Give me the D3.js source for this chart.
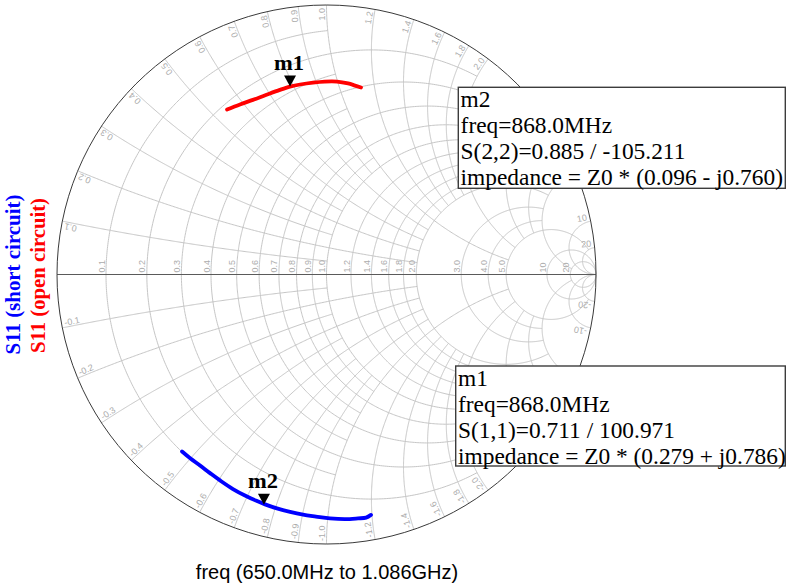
<!DOCTYPE html>
<html>
<head>
<meta charset="utf-8">
<script src="https://cdn.jsdelivr.net/npm/d3@7"></script>
<style>
  html, body { margin: 0; padding: 0; background: #fff; }
  svg { display: block; }
</style>
</head>
<body>
<svg id="chart" width="786" height="587"></svg>
<script>
// Normalized resistance / reactance values of the Smith grid
const gridValues = [0.1, 0.2, 0.3, 0.4, 0.5, 0.6, 0.7, 0.8, 0.9, 1.0, 1.2, 1.4, 1.6, 1.8, 2.0, 3.0, 4.0, 5.0, 10, 20];
// How far each grid line runs along the other coordinate
const gridReach = [1, 2, 1, 2, 1, 2, 1, 2, 1, 5, 2, 2, 2, 2, 5, 5, 5, 20, Infinity, Infinity];

// S11 (open circuit): reflection coefficient, real and imaginary parts
const openRe = [-0.369, -0.321, -0.273, -0.225, -0.173, -0.132, -0.098, -0.050, -0.006, 0.039, 0.080, 0.106, 0.128];
const openIm = [0.612, 0.631, 0.648, 0.666, 0.685, 0.698, 0.705, 0.712, 0.716, 0.716, 0.709, 0.701, 0.694];

// S11 (short circuit): reflection coefficient, real and imaginary parts
const shortRe = [-0.536, -0.507, -0.469, -0.432, -0.395, -0.347, -0.295, -0.262, -0.228, -0.184, -0.135, -0.087, -0.039, 0.013, 0.069, 0.117, 0.147, 0.165];
const shortIm = [-0.657, -0.681, -0.709, -0.737, -0.764, -0.796, -0.824, -0.839, -0.853, -0.868, -0.881, -0.891, -0.898, -0.905, -0.908, -0.905, -0.902, -0.892];

// Markers at 868 MHz
const markerNames = ["m1", "m2"];
const markerParams = ["S(1,1)", "S(2,2)"];
const markerFreqs = ["868.0MHz", "868.0MHz"];
const markerMag = [0.711, 0.885];
const markerAngle = [100.971, -105.211];
const markerZr = [0.279, 0.096];
const markerZx = [0.786, -0.760];

const freqLabel = "freq (650.0MHz to 1.086GHz)";
const titleShort = "S11 (short circuit)";
const titleOpen = "S11 (open circuit)";

const svg = d3.select("#chart");
const cx = 326.5, cy = 274.5, R = 269.5;
const sx = d3.scaleLinear().domain([-1, 1]).range([cx - R, cx + R]);
const sy = d3.scaleLinear().domain([-1, 1]).range([cy + R, cy - R]);
const line = d3.line().x(d => sx(d[0])).y(d => sy(d[1]));

// z = r + jx  ->  gamma = (z - 1) / (z + 1)
function gammaOf(r, x) {
  const a = r - 1, c = r + 1, den = c * c + x * x;
  return [(a * c + x * x) / den, (x * c - a * x) / den];
}

// Constant-resistance circle, kept within |x| <= X
function rCircle(r, X) {
  const c = r / (1 + r), rho = 1 / (1 + r);
  let p1 = 0;
  if (isFinite(X)) { const g = gammaOf(r, X); p1 = Math.atan2(g[1], g[0] - c); }
  const pts = [], n = 360;
  for (let i = 0; i <= n; i++) {
    const p = p1 + (2 * Math.PI - 2 * p1) * i / n;
    pts.push([c + rho * Math.cos(p), rho * Math.sin(p)]);
  }
  return pts;
}

// Constant-reactance arc, from the rim in to resistance Rm
function xArc(x, Rm) {
  const ccy = 1 / x, rho = Math.abs(1 / x);
  const g0 = gammaOf(0, x);
  const a0 = Math.atan2(g0[1] - ccy, g0[0] - 1);
  let a1;
  if (isFinite(Rm)) { const g1 = gammaOf(Rm, x); a1 = Math.atan2(g1[1] - ccy, g1[0] - 1); }
  else a1 = x > 0 ? -Math.PI / 2 : Math.PI / 2;
  let dA = a1 - a0;
  while (dA > Math.PI) dA -= 2 * Math.PI;
  while (dA <= -Math.PI) dA += 2 * Math.PI;
  const pts = [], n = 240;
  for (let i = 0; i <= n; i++) {
    const a = a0 + dA * i / n;
    pts.push([1 + rho * Math.cos(a), ccy + rho * Math.sin(a)]);
  }
  return pts;
}

const gridColor = "#c6c6c6";
const labelColor = "#acacac";
const gGrid = svg.append("g").attr("fill", "none").attr("stroke", gridColor).attr("stroke-width", 1);

gridValues.forEach((v, i) => {
  gGrid.append("path").attr("d", line(rCircle(v, gridReach[i])));
  gGrid.append("path").attr("d", line(xArc(v, gridReach[i])));
  gGrid.append("path").attr("d", line(xArc(-v, gridReach[i])));
});

// Real axis and outer rim
svg.append("line")
  .attr("x1", sx(-1)).attr("x2", sx(1)).attr("y1", sy(0)).attr("y2", sy(0))
  .attr("stroke", "#5a5a5a").attr("stroke-width", 1.2);
svg.append("circle")
  .attr("cx", sx(0)).attr("cy", sy(0)).attr("r", sx(1) - sx(0))
  .attr("fill", "none").attr("stroke", "#3a3a3a").attr("stroke-width", 1);

const fmt = v => v >= 10 ? String(v) : v.toFixed(1);
const gLab = svg.append("g")
  .attr("font-family", "'Liberation Sans', Arial, sans-serif")
  .attr("font-size", 9).attr("fill", labelColor);

// Resistance labels along the real axis
gridValues.forEach(v => {
  const g = gammaOf(v, 0);
  gLab.append("text")
    .attr("transform", `translate(${sx(g[0]) - 1.5},${sy(0) - 2}) rotate(-90)`)
    .text(fmt(v));
});

// Reactance labels around the rim
gridValues.forEach(v => {
  [v, -v].forEach(x => {
    const g = gammaOf(0, x);
    const px = sx(g[0]), py = sy(g[1]);
    const ux = (cx - px) / R, uy = (cy - py) / R;
    const dx = x > 0 ? -ux : ux, dy = x > 0 ? -uy : uy;
    const ang = Math.atan2(dy, dx) * 180 / Math.PI;
    const gap = 3;
    gLab.append("text")
      .attr("transform", `translate(${px + ux * gap},${py + uy * gap}) rotate(${ang})`)
      .attr("dy", -1.5)
      .attr("text-anchor", x > 0 ? "end" : "start")
      .text(x > 0 ? fmt(x) : "-" + fmt(-x));
  });
});

// Traces
const trace = (re, im) => re.map((r, i) => [r, im[i]]);
const traceLine = d3.line().x(d => sx(d[0])).y(d => sy(d[1])).curve(d3.curveCatmullRom);
svg.append("path").attr("d", traceLine(trace(openRe, openIm)))
  .attr("fill", "none").attr("stroke", "#ff0000").attr("stroke-width", 3.8)
  .attr("stroke-linejoin", "round").attr("stroke-linecap", "round");
svg.append("path").attr("d", traceLine(trace(shortRe, shortIm)))
  .attr("fill", "none").attr("stroke", "#0000ff").attr("stroke-width", 3.8)
  .attr("stroke-linejoin", "round").attr("stroke-linecap", "round");

// Marker symbols and names
markerNames.forEach((name, i) => {
  const a = markerAngle[i] * Math.PI / 180;
  const px = sx(markerMag[i] * Math.cos(a)), py = sy(markerMag[i] * Math.sin(a));
  svg.append("path")
    .attr("d", `M${px},${py} L${px - 6},${py - 11} L${px + 6},${py - 11} Z`)
    .attr("fill", "#000");
  svg.append("text")
    .attr("x", px - 1).attr("y", py - 16.5)
    .attr("text-anchor", "middle")
    .attr("font-family", "'Liberation Serif', 'Times New Roman', serif")
    .attr("font-weight", "bold").attr("font-size", 21)
    .attr("textLength", 30).attr("lengthAdjust", "spacingAndGlyphs")
    .text(name);
});

// Marker readout boxes
const boxPos = [[455.7, 366, 100], [458.3, 87.3, 101]];
const signed = v => (v < 0 ? "- j" : "+ j") + Math.abs(v).toFixed(3);
markerNames.forEach((name, i) => {
  const [bx, by, bh] = boxPos[i];
  const g = svg.append("g");
  g.append("rect").attr("x", bx).attr("y", by).attr("width", 785.3 - bx).attr("height", bh)
    .attr("fill", "#fff").attr("stroke", "#3c3c3c").attr("stroke-width", 1.4);
  const lines = [
    name,
    "freq=" + markerFreqs[i],
    markerParams[i] + "=" + markerMag[i].toFixed(3) + " / " + markerAngle[i].toFixed(3),
    "impedance = Z0 * (" + markerZr[i].toFixed(3) + " " + signed(markerZx[i]) + ")"
  ];
  lines.forEach((t, k) => {
    g.append("text")
      .attr("x", bx + 2.3).attr("y", by + 19.5 + 26 * k)
      .attr("font-family", "'Liberation Serif', 'Times New Roman', serif")
      .attr("font-size", 23.4).attr("fill", "#000")
      .text(t);
  });
});

// Axis titles
svg.append("text")
  .attr("transform", `translate(20,${cy}) rotate(-90)`)
  .attr("text-anchor", "middle")
  .attr("font-family", "'Liberation Serif', 'Times New Roman', serif")
  .attr("font-weight", "bold").attr("font-size", 20).attr("fill", "#0000ff")
  .attr("textLength", 160).attr("lengthAdjust", "spacingAndGlyphs")
  .text(titleShort);
svg.append("text")
  .attr("transform", `translate(44.5,${cy + 1}) rotate(-90)`)
  .attr("text-anchor", "middle")
  .attr("font-family", "'Liberation Serif', 'Times New Roman', serif")
  .attr("font-weight", "bold").attr("font-size", 20).attr("fill", "#ff0000")
  .attr("textLength", 155).attr("lengthAdjust", "spacingAndGlyphs")
  .text(titleOpen);

svg.append("text")
  .attr("x", 327).attr("y", 578.5)
  .attr("text-anchor", "middle")
  .attr("font-family", "'Liberation Sans', Arial, sans-serif")
  .attr("font-size", 20).attr("fill", "#000")
  .text(freqLabel);
</script>
</body>
</html>
